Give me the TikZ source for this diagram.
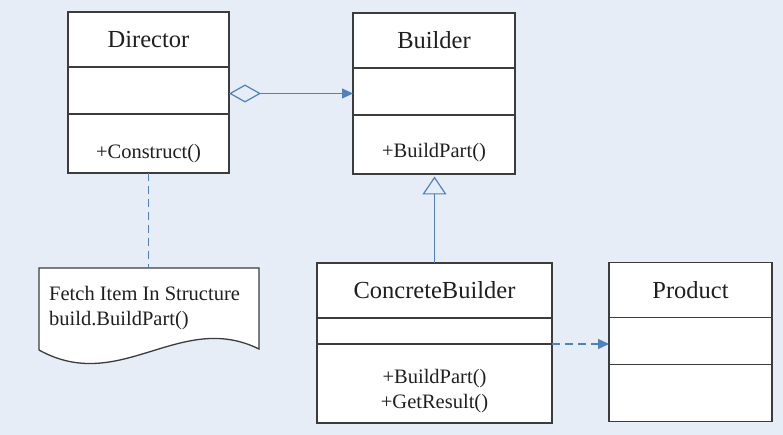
\documentclass[tikz,border=0pt]{standalone}
\usepackage{fontspec}
\setmainfont{Liberation Serif}
\usetikzlibrary{positioning,arrows.meta}

\definecolor{bgblue}{RGB}{230,237,247}
\definecolor{linkblue}{RGB}{79,129,189}
\definecolor{boxgray}{RGB}{60,60,60}

\tikzset{
    classpart/.style={rectangle, draw=boxgray, fill=white, line width=1.3pt, inner sep=0pt, outer sep=0pt, text=black!88},
    classhead/.style={classpart, minimum height=55pt, font=\fontsize{24.5}{29}\selectfont},
    classattr/.style={classpart, minimum height=47pt},
    classops/.style={classpart, minimum height=59pt, text height=30pt, align=center, font=\fontsize{20.5}{25}\selectfont},
    link/.style={draw=linkblue, line width=1.2pt},
    dashlink/.style={link, dash pattern=on 8pt off 5pt},
    notetext/.style={inner sep=0pt, align=left, text=black!88, font=\fontsize{20.5}{25}\selectfont},
}

\begin{document}
\begin{tikzpicture}[x=1pt,y=-1pt]
    \fill[bgblue] (0,0) rectangle (783,435);
    \useasboundingbox (0,0) rectangle (783,435);

    \node[classhead, minimum width=161pt] (dirT) at (148.5,39.5) {Director};
    \node[classattr, minimum width=161pt, below=0pt of dirT] (dirA) {};
    \node[classops, minimum width=161pt, text height=34pt, below=0pt of dirA] (dirO) {+Construct()};

    \node[classhead, minimum width=162pt] (bldT) at (434,40.5) {Builder};
    \node[classattr, minimum width=162pt, below=0pt of bldT] (bldA) {};
    \node[classops, minimum width=162pt, below=0pt of bldA] (bldO) {+BuildPart()};

    \node[classhead, minimum width=235pt] (cbT) at (434.5,290.5) {ConcreteBuilder};
    \node[classattr, minimum width=235pt, minimum height=26pt, below=0pt of cbT] (cbA) {};
    \node[classops, minimum width=235pt, minimum height=79pt, text height=55pt, below=0pt of cbA] (cbO) {+BuildPart()\\+GetResult()};

    \node[classhead, minimum width=163pt] (prT) at (690.5,290) {Product};
    \node[classattr, minimum width=163pt, below=0pt of prT] (prA) {};
    \node[classops, minimum width=163pt, minimum height=57pt, below=0pt of prA] (prO) {};

    \draw[link, {Diamond[open, length=32pt, width=18pt]}-{Triangle[length=11pt, width=10pt]}] ([yshift=-3pt]dirA.east) -- ([yshift=-3pt]dirA.east -| bldA.west);
    \draw[link, shorten >=2.5pt, -{Triangle[open, length=18pt, width=24pt]}] (cbT.north) -- (cbT.north |- bldO.south);
    \draw[dashlink, -{Triangle[length=11pt, width=10pt]}] (cbO.north east) -- (cbO.north east -| prA.west);

    \coordinate (noteNW) at (39,268);
    \draw[boxgray, fill=white, line width=1.3pt] (noteNW) -- (259,268) -- (259,349)
        .. controls (180,310) and (120,395) .. (39,350) -- cycle;
    \node[notetext, anchor=north west] (note) at (49,286) {Fetch Item In Structure\\build.BuildPart()};
    \draw[dashlink] (dirO.south) -- (dirO.south |- noteNW);
\end{tikzpicture}
\end{document}
